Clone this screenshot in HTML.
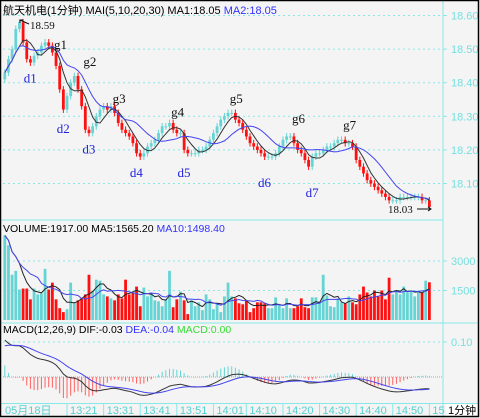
<!DOCTYPE html>
<html><head><meta charset="utf-8"><style>
html,body{margin:0;padding:0;background:#f4f4f4}
svg{display:block;font-family:"Liberation Sans","Noto Sans CJK SC",sans-serif}
</style></head><body>
<svg id="c" width="480" height="418" viewBox="0 0 480 418" xmlns="http://www.w3.org/2000/svg">
<rect x="0" y="0" width="480" height="418" fill="#f4f4f4"/>
<g id="grid"></g>
<g id="marks"></g>
<g id="ann" font-family="Liberation Serif,serif" font-size="13"></g>
<text x="3" y="14" font-size="11" fill="#000">航天机电(1分钟) MAI(5,10,20,30) MA1:18.05 <tspan fill="#3333ff">MA2:18.05</tspan></text>
<text x="3" y="232" font-size="10.5" fill="#000">VOLUME:1917.00 MA5:1565.20 <tspan fill="#3333ff">MA10:1498.40</tspan></text>
<text x="3" y="333" font-size="10.5" fill="#000">MACD(12,26,9) DIF:-0.03 <tspan fill="#3333ff">DEA:-0.04</tspan> <tspan fill="#33dd33">MACD:0.00</tspan></text>
<rect x="446" y="404" width="32" height="12" fill="#fff"/>
<text x="448" y="414" font-size="11" fill="#000">1分钟</text>
<rect x="0.5" y="0.5" width="478" height="416" fill="none" stroke="#000" stroke-width="1.5"/>
</svg>
<script>
const closes=[18.43,18.47,18.50,18.56,18.58,18.52,18.47,18.46,18.48,18.49,18.51,18.52,18.51,18.49,18.45,18.38,18.32,18.36,18.40,18.42,18.38,18.33,18.26,18.25,18.27,18.30,18.32,18.33,18.32,18.33,18.31,18.28,18.26,18.25,18.24,18.22,18.19,18.18,18.19,18.21,18.22,18.23,18.25,18.27,18.27,18.28,18.26,18.25,18.25,18.20,18.19,18.19,18.19,18.20,18.20,18.21,18.23,18.25,18.27,18.29,18.30,18.31,18.31,18.29,18.28,18.26,18.24,18.22,18.21,18.20,18.19,18.18,18.18,18.18,18.19,18.21,18.23,18.24,18.24,18.22,18.20,18.19,18.17,18.15,18.18,18.19,18.19,18.20,18.21,18.21,18.22,18.23,18.23,18.22,18.22,18.21,18.17,18.15,18.13,18.11,18.10,18.09,18.08,18.07,18.06,18.05,18.05,18.05,18.06,18.06,18.06,18.06,18.06,18.06,18.05,18.05,18.03];
const volumes=[4300,3800,2300,2500,1550,1600,1600,1050,1600,1300,1350,2600,1550,1900,1050,600,400,550,1900,900,1000,1100,1300,2300,1500,2050,2000,1300,1200,1100,1000,1300,1100,2050,1300,1400,1700,700,1650,1200,1350,1000,950,700,1050,2500,650,1050,1450,1000,300,1000,700,900,500,1300,1050,550,850,400,1200,1900,1200,1100,850,800,1000,400,600,900,900,850,600,600,1150,750,600,1100,600,600,700,1100,650,600,1150,1150,900,2300,1250,700,650,1100,900,850,1200,900,800,1300,1700,1400,1200,1500,1200,1500,1050,2150,1300,1500,1300,1700,1400,1500,1200,1400,1400,2000,1917];
const priceTicks=[18.60,18.50,18.40,18.30,18.20,18.10];
const volTicks=[3000,1500];
const macdTicks=[0.10];
const timeLabels=["13:21","13:31","13:41","13:51","14:01","14:10","14:20","14:30","14:40","14:50","15"];
const timeIdx=[17,27,37,47,57,66,76,86,96,106,116];
const peakLabels=["g1","g2","g3","g4","g5","g6","g7"];
const peakPos=[[14,18.50],[22,18.45],[30,18.34],[46,18.30],[62,18.34],[79,18.28],[93,18.26]];
const troughLabels=["d1","d2","d3","d4","d5","d6","d7"];
const troughPos=[[6,18.40],[15,18.25],[22,18.19],[35,18.12],[48,18.12],[70,18.09],[83,18.06]];

const NS="http://www.w3.org/2000/svg";
const grid=document.getElementById('grid'),marks=document.getElementById('marks'),ann=document.getElementById('ann');
const X0=3,STEP=3.66;
const xc=i=>X0+i*STEP+1.8;
const yP=v=>15.5+(18.60-v)*336;
const yV=v=>320-v*29.5/1500;
const yM=v=>377-v*350;
function el(t,a,p){const e=document.createElementNS(NS,t);for(const k in a)e.setAttribute(k,a[k]);(p||marks).appendChild(e);return e;}
const AX="#88e8e8";
let l;
l=el('line',{x1:443,y1:0,x2:443,y2:418,stroke:AX},grid);


l=el('line',{x1:0,y1:323,x2:479,y2:323,stroke:AX},grid);


l=el('line',{x1:0,y1:403.5,x2:479,y2:403.5,stroke:AX},grid);


l=el('line',{x1:0,y1:220,x2:443,y2:220,stroke:AX},grid);


function hgrid(y,label,name){
  const g=el('line',{x1:3,y1:y,x2:443,y2:y,stroke:AX,'stroke-dasharray':'2,3'},grid);
  
  
  const tk=el('line',{x1:443,y1:y,x2:447,y2:y,stroke:AX},grid);
  
  
  const t=el('text',{x:451,y:y+4,'font-size':11,fill:'#77e0e0'},grid);
  t.textContent=label;
  
  
}
priceTicks.forEach(v=>hgrid(yP(v),v.toFixed(2),'price'));
volTicks.forEach(v=>hgrid(yV(v),String(v),'volume'));
macdTicks.forEach(v=>hgrid(yM(v),v.toFixed(2),'macd'));
let t0=el('text',{x:5,y:414,'font-size':11,fill:'#55d0d0'},grid);t0.textContent='05月18日';


timeLabels.forEach((s,k)=>{
  const x=xc(timeIdx[k]);
  const tk=el('line',{x1:x,y1:404,x2:x,y2:416,stroke:AX},grid);
  
  
  const t=el('text',{x:x+3,y:414,'font-size':11,fill:'#55d0d0'},grid);t.textContent=s;
  
  
});
const RED="#ff1010",CY="#66d4d4";
const n=closes.length;
for(let i=0;i<n;i++){
  const o=i?closes[i-1]:closes[0]-0.02,c=closes[i];
  const col=c<o?RED:CY;
  const y1=yP(Math.max(o,c)),y2=yP(Math.min(o,c));
  const hi=Math.max(o,c)+0.01,lo=Math.min(o,c)-0.01;
  const w=el('line',{x1:xc(i),y1:yP(hi),x2:xc(i),y2:yP(lo),stroke:col});
  
  
  const b=el('rect',{x:xc(i)-1.4,y:y1,width:2.8,height:Math.max(1,y2-y1),fill:col});
  
  
  if(i<volumes.length){
    const vb=el('rect',{x:xc(i)-1.4,y:yV(volumes[i]),width:2.8,height:320-yV(volumes[i]),fill:col});
    
    
  }
}
function ma(a,p){return a.map((_,i)=>{const s=a.slice(Math.max(0,i-p+1),i+1);return s.reduce((x,y)=>x+y,0)/s.length;});}
function line(arr,fy,col,name){
  const d=arr.map((v,i)=>(i?'L':'M')+xc(i).toFixed(1)+','+fy(v).toFixed(1)).join('');
  const p=el('path',{d:d,fill:'none',stroke:col,'stroke-width':1});
  
  
}
line(ma(closes,5),yP,'#333','price-ma1-line');
line(ma(closes,12),yP,'#4444ee','price-ma2-line');
line(ma(volumes,5),yV,'#222','volume-ma5-line');
line(ma(volumes,10),yV,'#4444ee','volume-ma10-line');
let e12=closes[0]+0.07,e26=closes[0]-0.05,dea=0.085;const dif=[],deaA=[],hist=[];
closes.forEach(c=>{e12=e12+(c-e12)*2/13;e26=e26+(c-e26)*2/27;const d=e12-e26;dea=dea+(d-dea)*2/10;dif.push(d);deaA.push(dea);hist.push((d-dea)*2);});
const z=el('line',{x1:3,y1:yM(0),x2:443,y2:yM(0),stroke:'#aaa','stroke-dasharray':'1,1'});


hist.forEach((h,i)=>{const b=el('line',{x1:xc(i),y1:yM(0),x2:xc(i),y2:yM(h),stroke:h>=0?CY:'#ff6060'});
  
  });
line(dif,yM,'#333','dif-line');
line(deaA,yM,'#4444ee','dea-line');
peakLabels.forEach((s,k)=>{const t=el('text',{x:xc(peakPos[k][0])-2,y:yP(peakPos[k][1]),fill:'#111'},ann);t.textContent=s;
  
  });
troughLabels.forEach((s,k)=>{const t=el('text',{x:xc(troughPos[k][0])-3,y:yP(troughPos[k][1]),fill:'#2222dd'},ann);t.textContent=s;
  
  });
let hiT=el('text',{x:30,y:29,'font-size':11,fill:'#111'},ann);hiT.textContent='18.59';


el('path',{d:'M20,20 L29,24 M20,20 l0,3 M20,20 l3,0',stroke:'#111',fill:'none'},ann);
let loT=el('text',{x:388,y:213,'font-size':11,fill:'#111'},ann);loT.textContent='18.03';


el('path',{d:'M417,209 L431,209 M428,207 L431,209 L428,211',stroke:'#111',fill:'none'},ann);
</script>
</body></html>
